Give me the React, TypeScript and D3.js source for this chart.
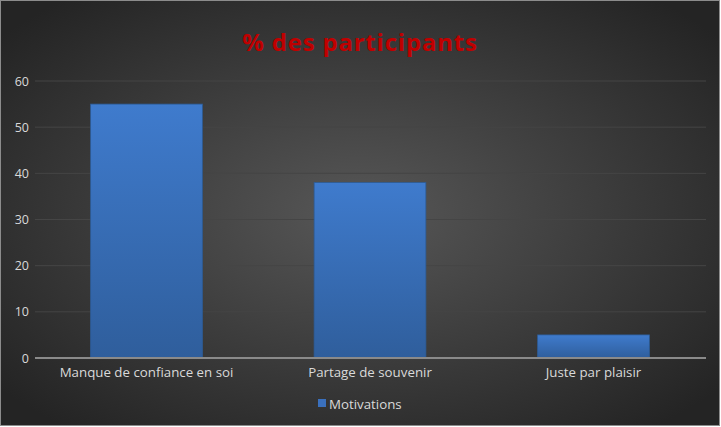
import React from "react";
import * as d3 from "d3";

const categories = ["Manque de confiance en soi", "Partage de souvenir", "Juste par plaisir"];
const values = [55, 38, 5];
const yTicks = [0, 10, 20, 30, 40, 50, 60];
const seriesName = "Motivations";
const title = "% des participants";

export default function App() {
  const W = 721, H = 427;
  const x = d3.scaleBand<string>().domain(categories).range([34.75, 705.25]).paddingInner(0.5).paddingOuter(0.25);
  const y = d3.scaleLinear().domain([0, 60]).range([358, 81]);
  const font = "'Open Sans', 'Noto Sans', sans-serif";
  return (
    <svg width={W} height={H} style={{ position: "absolute", left: 0, top: 0 }}>
      <defs>
        <radialGradient id="bg" cx="50%" cy="50%" r="65%">
          <stop offset="0%" stopColor="#575757" />
          <stop offset="100%" stopColor="#242424" />
        </radialGradient>
        <linearGradient id="bar" x1="0" y1="0" x2="0" y2="1">
          <stop offset="0%" stopColor="#3f7bcd" />
          <stop offset="100%" stopColor="#2f5e9c" />
        </linearGradient>
      </defs>
      <rect x={0.5} y={0.5} width={W - 2} height={H - 2} fill="url(#bg)" stroke="#8c8c8c" strokeWidth={1} />
      <text x={360} y={51} textAnchor="middle" fill="#c00000" fontFamily={font} fontWeight="bold" fontSize={24} letterSpacing={0.8}>{title}</text>
      {yTicks.filter(t => t > 0).map(t => (
        <line key={t} x1={35} x2={706} y1={y(t)} y2={y(t)} stroke="#454545" strokeWidth={1} />
      ))}
      {yTicks.map(t => (
        <text key={t} x={29} y={y(t) + 4.5} textAnchor="end" fill="#d9d9d9" fontFamily={font} fontSize={12.5}>{t}</text>
      ))}
      {categories.map((c, i) => (
        <rect key={c} x={x(c)!} y={y(values[i])} width={x.bandwidth()} height={y(0) - y(values[i])} fill="url(#bar)" stroke="#2d5c96" strokeWidth={0.8} />
      ))}
      <line x1={35} x2={706} y1={y(0)} y2={y(0)} stroke="#8a8a8a" strokeWidth={2} />
      {categories.map(c => (
        <text key={c} x={x(c)! + x.bandwidth() / 2} y={377} textAnchor="middle" fill="#d9d9d9" fontFamily={font} fontSize={13.3}>{c}</text>
      ))}
      <rect x={318} y={399} width={8} height={8} fill="#3a70bd" />
      <text x={329} y={408.5} fill="#d9d9d9" fontFamily={font} fontSize={13.3}>{seriesName}</text>
    </svg>
  );
}
